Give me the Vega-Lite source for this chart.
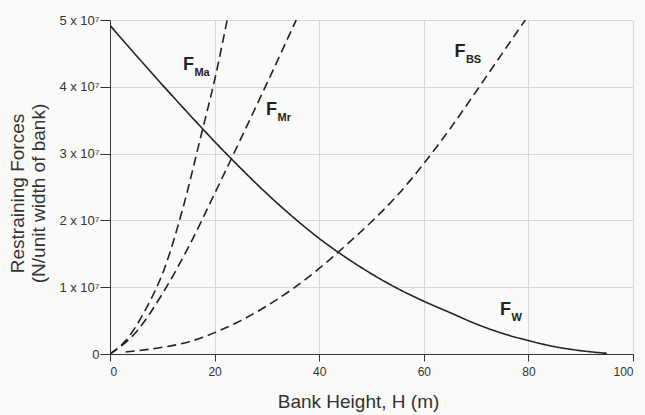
{
  "$schema": "https://vega.github.io/schema/vega-lite/v6.json",
  "width": 523,
  "height": 334,
  "autosize": {"type": "none"},
  "padding": {"left": 110, "top": 20, "right": 12, "bottom": 61},
  "background": "#fafaf8",
  "config": {
    "view": {"stroke": null},
    "font": "Liberation Sans",
    "axis": {
      "gridColor": "#d9d9d9",
      "gridWidth": 1,
      "domainColor": "#333333",
      "tickColor": "#333333",
      "labelColor": "#333333",
      "titleColor": "#333333",
      "labelFont": "Liberation Sans",
      "titleFont": "Liberation Sans",
      "titleFontWeight": "normal"
    }
  },
  "datasets": {
    "curves": [
      {"series": "W", "H": 0, "F": 4.92e7},
      {"series": "W", "H": 5, "F": 4.47e7},
      {"series": "W", "H": 10, "F": 4.03e7},
      {"series": "W", "H": 15, "F": 3.6e7},
      {"series": "W", "H": 20, "F": 3.18e7},
      {"series": "W", "H": 25, "F": 2.78e7},
      {"series": "W", "H": 30, "F": 2.4e7},
      {"series": "W", "H": 35, "F": 2.05e7},
      {"series": "W", "H": 40, "F": 1.73e7},
      {"series": "W", "H": 45, "F": 1.45e7},
      {"series": "W", "H": 50, "F": 1.2e7},
      {"series": "W", "H": 55, "F": 0.98e7},
      {"series": "W", "H": 60, "F": 0.79e7},
      {"series": "W", "H": 65, "F": 0.62e7},
      {"series": "W", "H": 70, "F": 0.45e7},
      {"series": "W", "H": 75, "F": 0.31e7},
      {"series": "W", "H": 80, "F": 0.2e7},
      {"series": "W", "H": 85, "F": 0.11e7},
      {"series": "W", "H": 90, "F": 0.05e7},
      {"series": "W", "H": 95, "F": 0.01e7},
      {"series": "Ma", "H": 0, "F": 0},
      {"series": "Ma", "H": 3.0, "F": 0.2e7},
      {"series": "Ma", "H": 6.7, "F": 0.65e7},
      {"series": "Ma", "H": 10.5, "F": 1.3e7},
      {"series": "Ma", "H": 14.0, "F": 2.2e7},
      {"series": "Ma", "H": 17.5, "F": 3.3e7},
      {"series": "Ma", "H": 20.0, "F": 4.1e7},
      {"series": "Ma", "H": 22.4, "F": 5.0e7},
      {"series": "Mr", "H": 0, "F": 0},
      {"series": "Mr", "H": 5, "F": 0.33e7},
      {"series": "Mr", "H": 10, "F": 0.9e7},
      {"series": "Mr", "H": 15, "F": 1.6e7},
      {"series": "Mr", "H": 20, "F": 2.4e7},
      {"series": "Mr", "H": 25, "F": 3.22e7},
      {"series": "Mr", "H": 30, "F": 4.05e7},
      {"series": "Mr", "H": 35.6, "F": 5.0e7},
      {"series": "BS", "H": 3.0, "F": 0.03e7},
      {"series": "BS", "H": 10, "F": 0.1e7},
      {"series": "BS", "H": 15, "F": 0.18e7},
      {"series": "BS", "H": 20, "F": 0.32e7},
      {"series": "BS", "H": 25, "F": 0.5e7},
      {"series": "BS", "H": 30, "F": 0.72e7},
      {"series": "BS", "H": 35, "F": 0.98e7},
      {"series": "BS", "H": 40, "F": 1.28e7},
      {"series": "BS", "H": 45, "F": 1.62e7},
      {"series": "BS", "H": 50, "F": 1.98e7},
      {"series": "BS", "H": 55, "F": 2.38e7},
      {"series": "BS", "H": 60, "F": 2.85e7},
      {"series": "BS", "H": 65, "F": 3.37e7},
      {"series": "BS", "H": 70, "F": 3.93e7},
      {"series": "BS", "H": 75, "F": 4.5e7},
      {"series": "BS", "H": 79.4, "F": 5.0e7}
    ],
    "labels": [
      {"sub": "Ma", "H": 15.0, "F": 4.25e7},
      {"sub": "Mr", "H": 30.9, "F": 3.58e7},
      {"sub": "BS", "H": 66.9, "F": 4.45e7},
      {"sub": "W", "H": 75.6, "F": 0.58e7}
    ]
  },
  "encoding": {
    "x": {
      "field": "H", "type": "quantitative",
      "scale": {"domain": [0, 100], "nice": false},
      "axis": {
        "values": [0, 20, 40, 60, 80, 100],
        "title": "Bank Height, H (m)",
        "titleFontSize": 19,
        "titleX": 248,
        "titleY": 53,
        "titleAlign": "center",
        "titleBaseline": "alphabetic",
        "labelFontSize": 12,
        "tickSize": 7,
        "labelPadding": 5,
        "grid": true
      }
    },
    "y": {
      "field": "F", "type": "quantitative",
      "scale": {"domain": [0, 50000000], "nice": false},
      "axis": {
        "values": [0, 10000000, 20000000, 30000000, 40000000, 50000000],
        "labelExpr": "datum.value == 0 ? '0' : format(datum.value / 10000000, 'd') + ' x 10⁷'",
        "title": ["Restraining Forces", "(N/unit width of bank)"],
        "titleFontSize": 19,
        "titleLineHeight": 21,
        "titleAngle": -90,
        "titleX": -83,
        "titleY": 173,
        "titleAlign": "center",
        "titleBaseline": "bottom",
        "labelFontSize": 13,
        "tickSize": 10,
        "labelPadding": 1,
        "grid": true
      }
    }
  },
  "layer": [
    {
      "data": {"name": "curves"},
      "mark": {"type": "line", "color": "#222222", "strokeWidth": 1.6, "interpolate": "monotone", "clip": true},
      "encoding": {
        "detail": {"field": "series"},
        "strokeDash": {
          "field": "series", "type": "nominal",
          "scale": {"domain": ["W", "Ma", "Mr", "BS"], "range": [[1, 0], [9, 5], [9, 5], [9, 5]]},
          "legend": null
        }
      }
    },
    {
      "data": {"values": [{}]},
      "mark": {"type": "rule", "color": "#333333", "strokeWidth": 1.2},
      "encoding": {
        "x": {"datum": 0},
        "x2": {"datum": 100},
        "y": {"datum": 50000000}
      }
    },
    {
      "data": {"name": "labels"},
      "mark": {"type": "text", "text": "F", "fontSize": 18, "fontWeight": "bold", "align": "center", "baseline": "alphabetic", "color": "#222222"}
    },
    {
      "data": {"name": "labels"},
      "mark": {"type": "text", "fontSize": 11, "fontWeight": "bold", "align": "left", "baseline": "alphabetic", "dx": 6, "dy": 6, "color": "#222222"},
      "encoding": {"text": {"field": "sub"}}
    }
  ]
}
